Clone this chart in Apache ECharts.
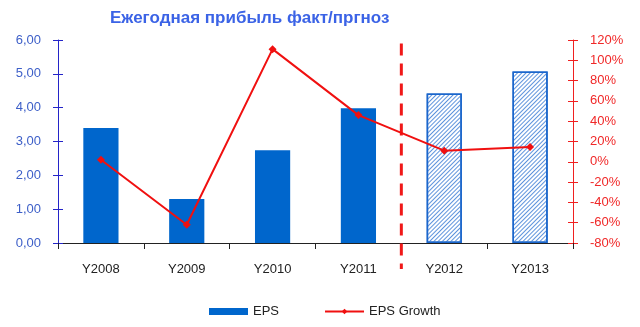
<!DOCTYPE html>
<html>
<head>
<meta charset="utf-8">
<script src="https://cdn.jsdelivr.net/npm/echarts@6/dist/echarts.min.js"></script>
<style>
html,body{margin:0;padding:0;background:#fff;}
#chart{width:640px;height:327px;}
</style>
</head>
<body>
<div id="chart"></div>
<script>
// Chart data
const years = ['Y2008', 'Y2009', 'Y2010', 'Y2011', 'Y2012', 'Y2013'];
const epsActual = [3.40, 1.30, 2.74, 3.98, null, null];
const epsForecast = [null, null, null, null, 4.42, 5.07];
const epsGrowth = [2, -62, 111, 46, 11, 14.6];
const leftTicks = { min: 0, max: 6, step: 1 };
const rightTicks = { min: -80, max: 120, step: 20 };
// Boundary between actual and forecast years (in category slots)
const forecastStart = 4;
const dividerSpan = [5.9, -0.77];

const chart = echarts.init(document.getElementById('chart'), null, { renderer: 'canvas' });
const font = 'Liberation Sans, Arial, sans-serif';
const blueAxis = '#2424c8';
const redAxis = '#f02020';

// Extra tick-only axis so the ticks cross the axis line
function innerTicks(pos, color, range) {
  return {
    type: 'value', position: pos, min: range.min, max: range.max, interval: range.step,
    axisLine: { show: false }, splitLine: { show: false }, axisLabel: { show: false },
    axisTick: { show: true, inside: true, length: 5, lineStyle: { color } }
  };
}

chart.setOption({
  animation: false,
  textStyle: { fontFamily: font },
  title: {
    text: 'Ежегодная прибыль факт/пргноз',
    left: 105, top: 5,
    textStyle: { color: '#3b63e6', fontSize: 17, fontWeight: 'bold', fontFamily: font }
  },
  legend: {
    bottom: 4, left: 204,
    itemGap: 45,
    textStyle: { color: '#222', fontSize: 13, fontFamily: font },
    data: [
      { name: 'EPS', icon: 'rect', itemStyle: { color: '#0066cc' } },
      { name: 'EPS Growth' }
    ],
    itemWidth: 39, itemHeight: 7
  },
  grid: { left: 58, right: 67, top: 40, bottom: 84 },
  xAxis: [
    {
      type: 'category', data: years,
      axisLine: { lineStyle: { color: '#222', width: 1 } },
      axisTick: { show: true, length: 6, alignWithLabel: false, lineStyle: { color: '#222' } },
      axisLabel: { color: '#222', fontSize: 13, margin: 20, fontFamily: font }
    },
    {
      type: 'value', min: 0, max: years.length, show: false
    }
  ],
  yAxis: [
    {
      type: 'value', min: leftTicks.min, max: leftTicks.max, interval: leftTicks.step,
      axisLine: { show: true, lineStyle: { color: blueAxis } },
      axisTick: { show: true, length: 5, lineStyle: { color: blueAxis } },
      splitLine: { show: false },
      axisLabel: { color: '#3d5fc8', fontSize: 13, margin: 17, fontFamily: font,
        formatter: v => v.toFixed(2).replace('.', ',') }
    },
    {
      type: 'value', min: rightTicks.min, max: rightTicks.max, interval: rightTicks.step,
      axisLine: { show: true, lineStyle: { color: redAxis } },
      axisTick: { show: true, length: 5, lineStyle: { color: redAxis } },
      splitLine: { show: false },
      axisLabel: { color: '#f02828', fontSize: 13, margin: 17, fontFamily: font,
        formatter: v => v + '%' }
    },
    innerTicks('left', blueAxis, leftTicks),
    innerTicks('right', redAxis, rightTicks)
  ],
  series: [
    {
      name: 'EPS', type: 'bar', data: epsActual, barWidth: '41%', barGap: '-100%',
      itemStyle: { color: '#0066cc' }
    },
    {
      name: 'EPS forecast', type: 'bar', data: epsForecast, barWidth: '41%', barGap: '-100%',
      itemStyle: {
        color: '#ffffff', borderColor: '#1a66cc', borderWidth: 1.5,
        decal: {
          symbol: 'rect', color: '#5d93dc',
          dashArrayX: [1, 0], dashArrayY: [1, 2],
          rotation: -Math.PI / 4
        }
      }
    },
    {
      name: 'divider', type: 'line', xAxisIndex: 1, yAxisIndex: 0, clip: false,
      data: [[forecastStart, dividerSpan[0]], [forecastStart, dividerSpan[1]]],
      symbol: 'none', silent: true,
      lineStyle: { color: '#f01818', width: 3, type: [12, 8] }
    },
    {
      name: 'EPS Growth', type: 'line', yAxisIndex: 1, data: epsGrowth,
      symbol: 'diamond', symbolSize: 8,
      itemStyle: { color: '#f01010' },
      lineStyle: { color: '#f01010', width: 2 },
      z: 5
    }
  ]
});
</script>
</body>
</html>
